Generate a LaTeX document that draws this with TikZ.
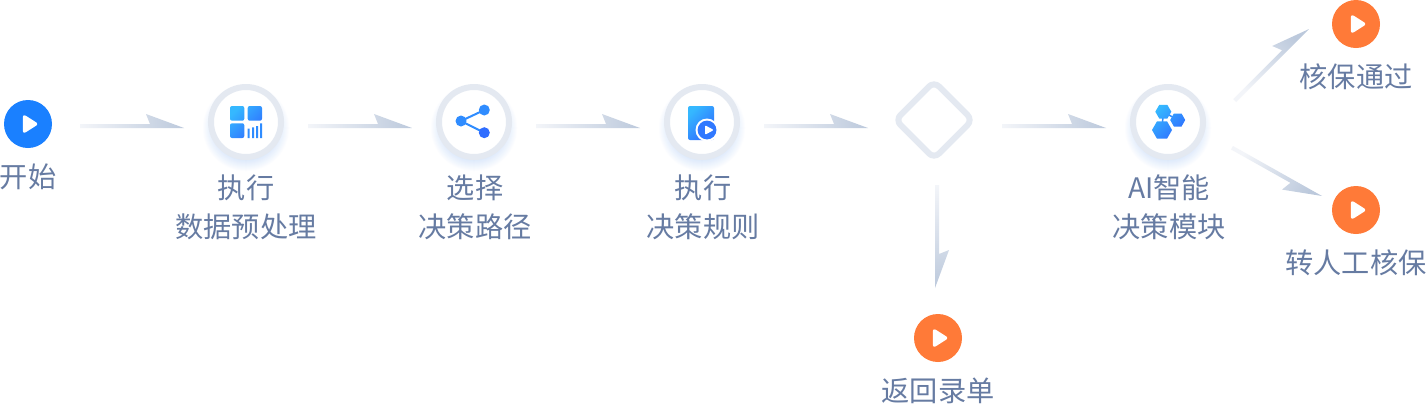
\documentclass[tikz,border=0pt]{standalone}
\usepackage{fontspec}
\setmainfont{Noto Sans CJK SC}
\usetikzlibrary{calc}
\definecolor{ringc}{HTML}{E4E9F1}
\definecolor{glowc}{HTML}{DCE9FB}
\definecolor{textc}{HTML}{667BA2}
\definecolor{tailc}{HTML}{F3F5F9}
\definecolor{headc}{HTML}{BCC9DC}
\definecolor{startc}{HTML}{1A80FF}
\definecolor{endc}{HTML}{FF7A38}
\definecolor{iconA}{HTML}{35B8FF}
\definecolor{iconB}{HTML}{2F6DFF}
\definecolor{iconM}{HTML}{2F8CFF}
\tikzset{
  ringnode/.style={circle,draw=ringc,line width=6pt,fill=white,minimum size=70pt,inner sep=0pt},
  termnode/.style={circle,minimum size=48pt,inner sep=0pt,fill=#1},
  decisionnode/.style={draw=ringc,line width=6pt,rounded corners=7pt,fill=white},
  lbl/.style={font=\fontsize{28.2}{39}\selectfont,text=textc,align=center,inner sep=0pt},
  gradicon/.style={top color=iconA,bottom color=iconB,shading angle=45},
  playmark/.style={fill=white,draw=white,line width=3.5pt,line join=round}
}
\newcommand\flowarrow[5][1]{%
  \path let \p1=($(#4)+(#5)-(#2)-(#3)$),\n1={atan2(\y1,\x1)},\n2={veclen(\x1,\y1)} in
    \pgfextra{\pgfmathsetmacro\arang{\n1}\pgfmathsetmacro\arlen{\n2}\xdef\arang{\arang}\xdef\arlen{\arlen}};
  \begin{scope}[shift={($(#2)+(#3)$)},rotate=\arang,x=1pt,y=1pt]
    \pgfmathsetmacro\arsh{\arang+90}
    \shade[top color=tailc,bottom color=headc,shading angle=\arsh]
      (0,0) -- (\arlen,0) -- (\arlen-38,14*#1) -- (\arlen-34,4*#1) -- (0,4*#1) -- cycle;
  \end{scope}}
\newcommand\playicon[1]{%
  \begin{scope}[shift={(#1.center)}]
    \path[playmark] (-3.5,-7) -- (-3.5,7) -- (7.5,0) -- cycle;
  \end{scope}}
\newcommand\ringstep[3]{%
  \foreach \gi in {0,1,...,12}{%
    \pgfmathsetmacro\gp{\gi*100/12}%
    \pgfmathsetmacro\gr{44-\gi}%
    \fill[glowc!\gp!white] (#2,128) circle[radius=\gr];}%
  \node[ringnode] (#1) at (#2,#3) {};}
\begin{document}
\begin{tikzpicture}[x=1pt,y=-1pt]
\useasboundingbox (0,0) rectangle (1426,408);
\fill[white] (0,0) rectangle (1426,408);
% nodes
\node[termnode=startc] (start) at (28,124) {};
\ringstep{prep}{246}{122}
\ringstep{path}{474}{122}
\ringstep{rule}{702}{122}
\ringstep{aimod}{1168}{122}
\coordinate (dec) at (934,120);
\draw[decisionnode] ($(dec)+(0,-38.5)$) -- ($(dec)+(38.5,0)$) -- ($(dec)+(0,38.5)$) -- ($(dec)+(-38.5,0)$) -- cycle;
\node[termnode=endc] (pass) at (1356,24) {};
\node[termnode=endc] (manual) at (1356,210) {};
\node[termnode=endc] (back) at (938,338) {};
% labels
\node[lbl] (tstart) at (28,176.7) {开始};
\node[lbl] (tprep) at (246,207.7) {执行\\数据预处理};
\node[lbl] (tpath) at (475,207.7) {选择\\决策路径};
\node[lbl] (trule) at (703,207.7) {执行\\决策规则};
\node[lbl] (taimod) at (1169,207.7) {AI智能\\决策模块};
\node[lbl] (tpass) at (1356,76.7) {核保通过};
\node[lbl] (tmanual) at (1356,262.7) {转人工核保};
\node[lbl] (tback) at (938,390.7) {返回录单};
% connectors
\flowarrow{start}{52,4}{prep}{-62,6}
\flowarrow{prep}{62,6}{path}{-62,6}
\flowarrow{path}{62,6}{rule}{-62,6}
\flowarrow{rule}{62,6}{dec}{-66,8}
\flowarrow{dec}{68,8}{aimod}{-62,6}
\flowarrow{dec}{1,65}{back}{-3,-50}
\flowarrow{aimod}{68,-20}{pass}{-47,5}
\flowarrow[-1]{aimod}{65,24}{manual}{-34,-14}
% play marks
\playicon{start}\playicon{pass}\playicon{manual}\playicon{back}
% icon: data preprocessing
\begin{scope}[shift={(prep.center)}]
  \shade[gradicon,rounded corners=2pt] (-16,-16) rectangle (-1.7,-1.3) (1.7,-16) rectangle (16,-1.3) (-16,1.3) rectangle (-1.7,16);
  \fill[iconM] (1.7,6.7) rectangle (3.5,16) (6,5.3) rectangle (8,16) (10,4) rectangle (12,16) (14,1.3) rectangle (16,16);
\end{scope}
% icon: share
\begin{scope}[shift={(path.center)}]
  \draw[iconM,line width=2pt] (10.3,-12) -- (-13,-1) -- (10.3,10.7);
  \fill[iconM] (-13,-1) circle[radius=5.5];
  \fill[iconM] (10.3,-12) circle[radius=5.5];
  \fill[iconB] (10.3,10.7) circle[radius=5.5];
\end{scope}
% icon: rule
\begin{scope}[shift={(rule.center)}]
  \shade[gradicon,rounded corners=2pt] (-14,-16) rectangle (12,18);
  \fill[white] (5,8) circle[radius=11.5];
  \fill[iconB!85!iconA] (5,8) circle[radius=9.4];
  \path[fill=white,draw=white,line width=1.5pt,line join=round] (3.8,4.5) -- (3.8,11.5) -- (10.2,8) -- cycle;
\end{scope}
% icon: hexagons
\begin{scope}[shift={(aimod.center)}]
  \draw[iconM,line width=1.5pt] (-4.7,-10.3) -- (9.7,-2) (-4.7,-10.3) -- (-6,8);
  \shade[gradicon]
    (3.3,-10.3) -- (-0.7,-3.4) -- (-8.7,-3.4) -- (-12.7,-10.3) -- (-8.7,-17.2) -- (-0.7,-17.2) -- cycle
    (17.2,-2) -- (13.5,4.5) -- (5.9,4.5) -- (2.2,-2) -- (5.9,-8.5) -- (13.5,-8.5) -- cycle
    (4,8) -- (-1,16.7) -- (-11,16.7) -- (-16,8) -- (-11,-0.7) -- (-1,-0.7) -- cycle;
\end{scope}
\end{tikzpicture}
\end{document}
